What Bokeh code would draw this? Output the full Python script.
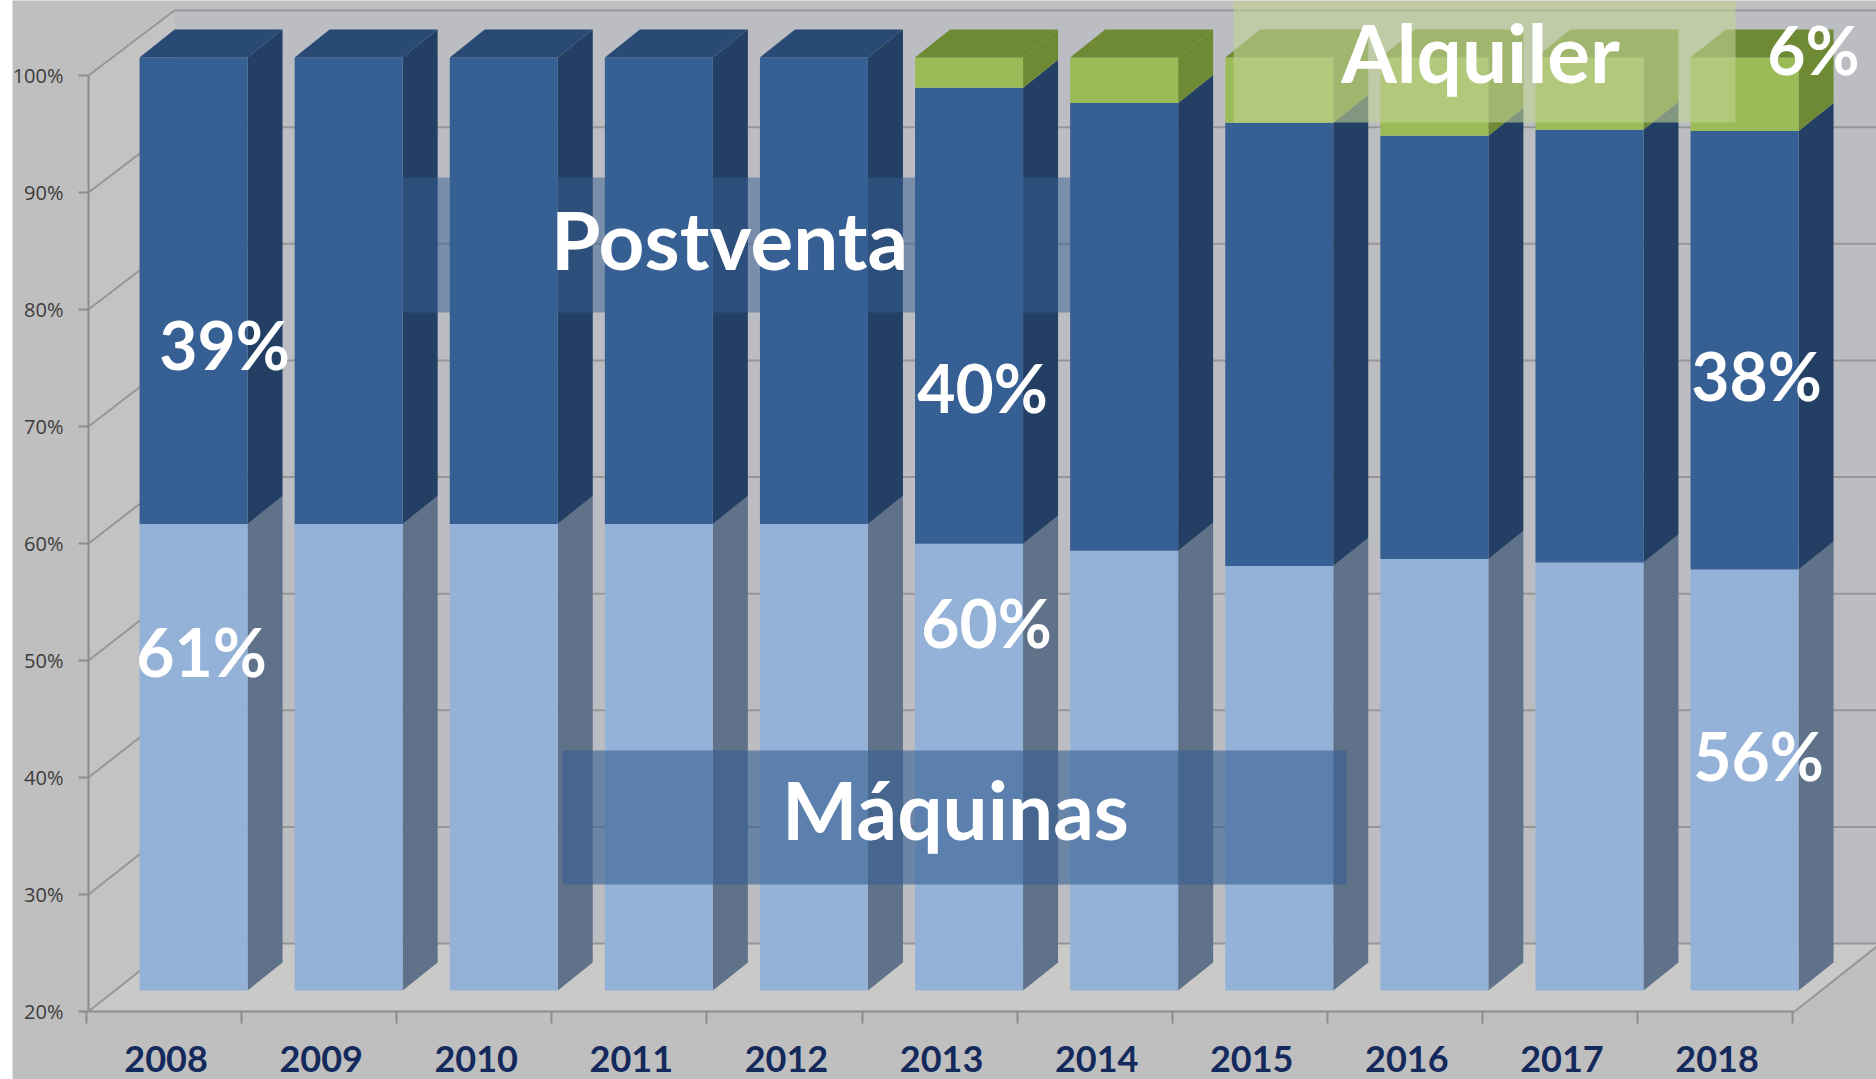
from bokeh.plotting import figure
from bokeh.embed import file_html
from bokeh.resources import INLINE
from bokeh.models import FixedTicker, Label, BoxAnnotation, Range1d

years = [2008, 2009, 2010, 2011, 2012, 2013, 2014, 2015, 2016, 2017, 2018]
maquinas = [60.0, 60.0, 60.0, 60.0, 60.0, 58.3, 57.7, 56.4, 57.0, 56.7, 56.1]
postventa = [40.0, 40.0, 40.0, 40.0, 40.0, 39.1, 38.4, 38.0, 36.3, 37.1, 37.6]
alquiler = [0.0, 0.0, 0.0, 0.0, 0.0, 2.6, 3.9, 5.6, 6.7, 6.2, 6.3]
y_ticks = [20, 30, 40, 50, 60, 70, 80, 90, 100]
y_labels = ["20%", "30%", "40%", "50%", "60%", "70%", "80%", "90%", "100%"]

PXX, PXY = 155.1, 11.7
FONT = "Lato"
W, H = 1864, 1079
OX = 12        # white edge of the source image
L, B = 76, 68  # distance in px from the canvas edge to the chart's front corner

x0, x1 = 2007.5, 2007.5 + 11
p = figure(width=W, height=H, output_backend="svg", toolbar_location=None,
           min_border_left=0, min_border_right=0, min_border_top=0, min_border_bottom=0,
           x_range=Range1d(x0 - L / PXX, x0 + (W - L) / PXX),
           y_range=Range1d(20 - B / PXY, 20 + (H - B) / PXY),
           x_axis_type="linear", y_axis_type="linear",
           background_fill_color="#c0bfbf", border_fill_color="#c0bfbf",
           outline_line_color=None, margin=(0, 0, 0, OX))
p.grid.visible = False

def dx(px): return px / PXX
def dy(px): return px / PXY
K = 933 / 936

# plane helpers: a depth offset in px right / up and the compressed height
def wall_y(v): return 20 + (v - 20) * K + dy(68)
def bar_y(v): return 20 + (v - 20) * K + dy(21)

wx, ex = dx(86), x0 + (W - L) / PXX

# floor and wall
p.patch([x0, x1, x1 + wx, x0 + wx], [20, 20, wall_y(20), wall_y(20)], fill_color="#c9c9c8", line_color=None)
p.patch([x0, x0 + wx, x0 + wx, x0], [20, wall_y(20), wall_y(100), 100], fill_color="#c3c3c3", line_color=None)
p.quad(left=x0 + wx, right=ex, bottom=wall_y(20), top=wall_y(100), fill_color="#bcbdc2", line_color=None)
for t in y_ticks:
    p.line([x0, x0 + wx, ex], [t, wall_y(t), wall_y(t)], line_color="#969696", line_width=2)
p.line([x1, x1 + wx], [20, wall_y(20)], line_color="#969696", line_width=2)

# bars
BW, SX, SY = dx(108), dx(35), dy(28)
def bar_left(y): return y - dx(26.5)

def draw(vals, base, front, side):
    for yr, v, b in zip(years, vals, base):
        if v <= 0:
            continue
        l, r = bar_left(yr), bar_left(yr) + BW
        y0, y1 = bar_y(max(b, 20)), bar_y(b + v)
        p.patch([r, r + SX, r + SX, r], [y0, y0 + SY, y1 + SY, y1], fill_color=side, line_color=None)
        p.quad(left=l, right=r, bottom=y0, top=y1, fill_color=front, line_color=None)

def draw_top(tops, colour):
    for yr, v, c in zip(years, tops, colour):
        l, r = bar_left(yr), bar_left(yr) + BW
        y = bar_y(v)
        p.patch([l, r, r + SX, l + SX], [y, y, y + SY, y + SY], fill_color=c, line_color=None)

zero = [0.0] * len(years)
stack2 = [a + b for a, b in zip(maquinas, postventa)]
draw(maquinas, zero, "#94b2d8", "#5f7289")
draw(postventa, maquinas, "#365f93", "#233f63")
draw(alquiler, stack2, "#9bbb59", "#6f8a35")
tops = [a + b for a, b in zip(stack2, alquiler)]
draw_top(tops, ["#6f8a35" if a > 0 else "#2a4a76" for a in alquiler])

# axes (both inside the full-canvas frame)
p.yaxis.fixed_location = x0
p.yaxis.bounds = (20, 100)
p.yaxis.ticker = FixedTicker(ticks=y_ticks)
p.yaxis.major_label_overrides = dict(zip(y_ticks, y_labels))
p.yaxis.major_label_text_font = "Open Sans"
p.yaxis.major_label_text_font_size = "20px"
p.yaxis.major_label_text_color = "#3c3c3c"
p.yaxis.major_tick_out = 10
p.yaxis.major_tick_in = 0
p.yaxis.minor_tick_line_color = None
p.yaxis.axis_line_color = "#8c8c8c"
p.yaxis.axis_line_width = 2
p.yaxis.major_tick_line_color = "#8c8c8c"
p.yaxis.major_tick_line_width = 2
p.yaxis.major_label_standoff = 15

p.xaxis.fixed_location = 20
p.xaxis.bounds = (x0, x1)
p.xaxis.ticker = FixedTicker(ticks=years, minor_ticks=[y - 0.5 - dx(2) for y in years] + [years[-1] + 0.5 - dx(2)])
p.xaxis.major_label_overrides = {y: str(y) for y in years}
p.xaxis.major_tick_in = 0
p.xaxis.major_tick_out = 0
p.xaxis.minor_tick_in = 0
p.xaxis.minor_tick_out = 12
p.xaxis.minor_tick_line_color = "#8c8c8c"
p.xaxis.minor_tick_line_width = 2
p.xaxis.axis_line_color = "#8c8c8c"
p.xaxis.axis_line_width = 2
p.xaxis.major_label_text_font = FONT
p.xaxis.major_label_text_font_style = "bold"
p.xaxis.major_label_text_font_size = "36px"
p.xaxis.major_label_text_color = "#14295c"
p.xaxis.major_label_standoff = 22

# overlay bands (page px)
def band(l, r, t, b, colour, alpha):
    p.add_layout(BoxAnnotation(left=l - OX, right=r - OX, top=t, bottom=b,
                               left_units="canvas", right_units="canvas", top_units="canvas", bottom_units="canvas",
                               fill_color=colour, fill_alpha=alpha, line_color=None, level="overlay"))
band(401, 1071, 177, 312, "#365f93", 0.5)
band(562, 1346, 750, 884, "#365f93", 0.6)
band(1233, 1735, 0, 122, "#c1d294", 0.6)

def txt(s, cx, cy, size):
    p.add_layout(Label(x=cx - OX, y=H - cy, x_units="screen", y_units="screen", text=s,
                       text_font=FONT, text_font_style="bold", text_font_size=f"{size}px",
                       text_color="#ffffff", text_align="center", text_baseline="middle", level="overlay"))
for s, cx, cy, size in [("Postventa", 729, 238, 80), ("Máquinas", 955, 808, 80), ("Alquiler", 1480, 51, 80),
                        ("39%", 224, 344, 66), ("61%", 201, 651, 66), ("40%", 982, 387, 66), ("60%", 986, 622, 66),
                        ("38%", 1756, 375, 66), ("56%", 1758, 755, 66), ("6%", 1813, 49, 66)]:
    txt(s, cx, cy, size)

open("out.html", "w").write(file_html(p, INLINE))
